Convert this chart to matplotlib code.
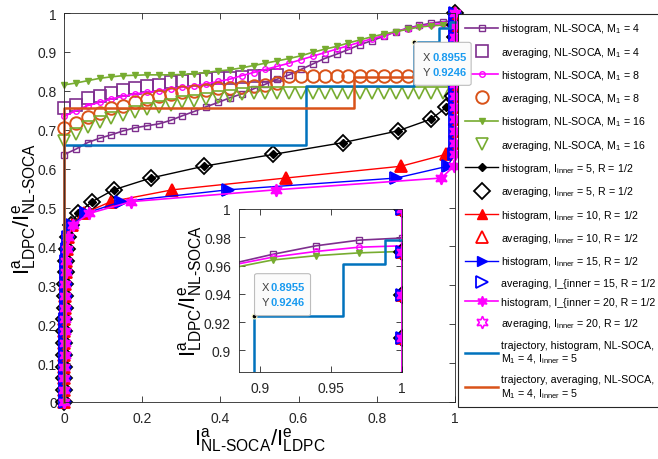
import numpy as np
import matplotlib
matplotlib.use("Agg")
import matplotlib.pyplot as plt
from matplotlib.patches import FancyBboxPatch

plt.rcParams['font.family'] = ['Liberation Sans', 'DejaVu Sans']
plt.rcParams['mathtext.fontset'] = 'custom'
plt.rcParams['mathtext.rm'] = 'Liberation Sans'
plt.rcParams['mathtext.it'] = 'Liberation Sans:italic'
plt.rcParams['mathtext.bf'] = 'Liberation Sans:bold'
plt.rcParams['mathtext.default'] = 'regular'

# a-priori input grid (34 points, step 1/33)
grid = np.linspace(0, 1, 34)

# NL-SOCA curves: y over the grid on x
hist_m4 = [0.636, 0.650, 0.667, 0.678, 0.687, 0.697, 0.705, 0.710, 0.715, 0.724,
           0.736, 0.747, 0.759, 0.770, 0.782, 0.792, 0.805, 0.817, 0.830, 0.841,
           0.855, 0.869, 0.883, 0.894, 0.906, 0.919, 0.929, 0.940, 0.952, 0.961,
           0.968, 0.974, 0.978, 0.9795]
avg_m4 = [0.755, 0.764, 0.781, 0.786, 0.794, 0.802, 0.807, 0.812, 0.816, 0.822,
          0.824, 0.827, 0.830, 0.833, 0.834, 0.836, 0.839, 0.839, 0.840]
hist_m8 = [0.734, 0.749, 0.762, 0.770, 0.779, 0.786, 0.792, 0.796, 0.800, 0.805,
           0.809, 0.813, 0.818, 0.824, 0.830, 0.839, 0.847, 0.855, 0.863, 0.871,
           0.880, 0.889, 0.898, 0.907, 0.916, 0.925, 0.934, 0.942, 0.952, 0.960,
           0.966, 0.970, 0.973, 0.974]
avg_m8 = [0.704, 0.716, 0.732, 0.743, 0.755, 0.762, 0.770, 0.779, 0.786, 0.791,
          0.796, 0.800, 0.803, 0.806, 0.808, 0.810, 0.812, 0.815, 0.820, 0.839,
          0.839, 0.839, 0.839, 0.839, 0.839, 0.839, 0.839, 0.839, 0.839, 0.839,
          0.839, 0.839, 0.839, 0.839]
hist_m16 = [0.815, 0.820, 0.826, 0.832, 0.836, 0.839, 0.840, 0.841, 0.841, 0.841,
            0.842, 0.844, 0.847, 0.851, 0.854, 0.859, 0.865, 0.871, 0.877, 0.883,
            0.890, 0.899, 0.907, 0.914, 0.923, 0.931, 0.939, 0.946, 0.952, 0.958,
            0.964, 0.967, 0.969, 0.970]
avg_m16 = [0.672, 0.689, 0.706, 0.719, 0.729, 0.738, 0.745, 0.753, 0.759, 0.764,
           0.770, 0.775, 0.779, 0.783, 0.786, 0.791, 0.794, 0.794, 0.794, 0.794,
           0.794, 0.794, 0.794, 0.794, 0.794, 0.794, 0.794, 0.794, 0.794, 0.794,
           0.794, 0.794, 0.794, 0.794]

# LDPC curves: x over the grid on y
hist_i5 = [0, 0, 0, 0, 0, 0.001, 0.001, 0.001, 0.002, 0.002,
           0.003, 0.004, 0.005, 0.007, 0.010, 0.018, 0.035, 0.072, 0.127, 0.222,
           0.357, 0.534, 0.713, 0.854, 0.939, 0.978, 0.994, 0.999, 1, 1,
           1, 1, 1, 1]
hist_i10 = [0, 0, 0, 0, 0, 0.001, 0.001, 0.001, 0.002, 0.002,
            0.003, 0.004, 0.005, 0.007, 0.010, 0.020, 0.050, 0.120, 0.277, 0.567,
            0.862, 0.976, 0.997, 1, 1, 1, 1, 1, 1, 1,
            1, 1, 1, 1]
hist_i15 = [0.002, 0.002, 0.002, 0.002, 0.003, 0.003, 0.003, 0.003, 0.004, 0.004,
            0.004, 0.005, 0.006, 0.008, 0.010, 0.020, 0.055, 0.146, 0.419, 0.850,
            0.981, 0.998, 1, 1, 1, 1, 1, 1, 1, 1,
            1, 1, 1, 1]
hist_i20 = [0.001, 0.001, 0.001, 0.001, 0.002, 0.002, 0.002, 0.002, 0.003, 0.003,
            0.003, 0.004, 0.005, 0.007, 0.010, 0.022, 0.065, 0.172, 0.541, 0.965,
            0.997, 1, 1, 1, 1, 1, 1, 1, 1, 1,
            1, 1, 1, 1]
# averaging markers sit on top of the histogram ones
avg_i5 = list(hist_i5)
avg_i10 = list(hist_i10)
avg_i15 = list(hist_i15)
avg_i20 = list(hist_i20)

# decoding trajectories
traj_hist_x = [0, 0, 0.619, 0.619, 0.8955, 0.8955, 0.958, 0.958, 0.988, 0.988, 1.0]
traj_hist_y = [0, 0.661, 0.661, 0.8115, 0.8115, 0.9246, 0.9246, 0.961, 0.961, 0.978, 0.978]
traj_avg_x = [0, 0, 0.741, 0.741, 0.8955]
traj_avg_y = [0, 0.757, 0.757, 0.835, 0.835]

tip = (0.8955, 0.9246)

purple, orange, green, tblue = '#7E2F8E', '#D95319', '#77AC30', '#0072BD'
hexagram = (6, 1, 0)

W, H = 658, 460
fig = plt.figure(figsize=(W / 100, H / 100), dpi=100)
ax = fig.add_axes([64 / W, 57 / H, 391 / W, 389 / H])
axi = fig.add_axes([239.3 / W, 87.3 / H, 163 / W, 162.7 / H])


def draw(a, clip):
    kw = dict(clip_on=clip)
    lines = []
    lines += a.plot(grid, hist_m4, '-s', color=purple, ms=4.5, mfc='none', lw=1.2, **kw)
    lines += a.plot(grid[:len(avg_m4)], avg_m4, 's', color=purple, ms=8, mfc='none', mew=1.2, **kw)
    lines += a.plot(grid, hist_m8, '-o', color='#FF00FF', ms=4, mfc='none', lw=1.2, **kw)
    lines += a.plot(grid, avg_m8, 'o', color=orange, ms=9, mfc='none', mew=1.4, **kw)
    lines += a.plot(grid, hist_m16, '-v', color=green, ms=5, lw=1.2, **kw)
    lines += a.plot(grid, avg_m16, 'v', color=green, ms=9, mfc='none', mew=1.2, **kw)
    lines += a.plot(hist_i5, grid, '-D', color='k', ms=4.5, lw=1.0, **kw)
    lines += a.plot(avg_i5, grid, 'D', color='k', ms=8, mfc='none', mew=1.3, **kw)
    lines += a.plot(hist_i10, grid, '-^', color='#FF0000', ms=6.5, lw=1.0, **kw)
    lines += a.plot(avg_i10, grid, '^', color='#FF0000', ms=9, mfc='none', mew=1.3, **kw)
    lines += a.plot(hist_i15, grid, '->', color='#0000FF', ms=6.5, lw=1.0, **kw)
    lines += a.plot(avg_i15, grid, '>', color='#0000FF', ms=9, mfc='none', mew=1.3, **kw)
    lines += a.plot(hist_i20, grid, '-', marker=hexagram, color='#FF00FF', ms=7.5, lw=1.2, **kw)
    lines += a.plot(avg_i20, grid, ls='none', marker=hexagram, color='#FF00FF', ms=9, mfc='none', mew=1.2, **kw)
    lines += a.plot(traj_hist_x, traj_hist_y, color=tblue, lw=1.8, **kw)
    lines += a.plot(traj_avg_x, traj_avg_y, color=orange, lw=1.8, **kw)
    return lines


def style(a, fs, xpad, ypad):
    for s in a.spines.values():
        s.set_color('#262626')
        s.set_linewidth(0.6)
    a.tick_params(direction='in', top=True, right=True, length=4, width=0.6,
                  colors='#262626', labelsize=fs, labelcolor='#262626')
    a.tick_params(axis='x', pad=xpad)
    a.tick_params(axis='y', pad=ypad)


handles = draw(ax, False)
ax.set_xlim(0, 1)
ax.set_ylim(0, 1)
ax.set_xticks([0, 0.2, 0.4, 0.6, 0.8, 1])
ax.set_xticklabels(['0', '0.2', '0.4', '0.6', '0.8', '1'])
ax.set_yticks(np.arange(11) / 10)
ax.set_yticklabels(['0', '0.1', '0.2', '0.3', '0.4', '0.5', '0.6', '0.7', '0.8', '0.9', '1'])
style(ax, 10, 6.5, 5)
ylab = r'I$^a_{LDPC}$/I$^e_{\text{NL-SOCA}}$'
xlab = r'I$^a_{\text{NL-SOCA}}$/I$^e_{LDPC}$'
ax.set_xlabel(xlab, fontsize=16, labelpad=0)
ax.set_ylabel(ylab, fontsize=16, labelpad=0)

draw(axi, True)
axi.set_xlim(0.8855, 1.0)
axi.set_ylim(0.885, 1.0)
axi.set_xticks([0.9, 0.95, 1])
axi.set_xticklabels(['0.9', '0.95', '1'])
axi.set_yticks([0.9, 0.92, 0.94, 0.96, 0.98, 1])
axi.set_yticklabels(['0.9', '0.92', '0.94', '0.96', '0.98', '1'])
style(axi, 10, 7, 6)
axi.set_ylabel(ylab, fontsize=16, labelpad=0)

labels = [
    r'histogram, NL-SOCA, M$_1$ = 4',
    r'averaging, NL-SOCA, M$_1$ = 4',
    r'histogram, NL-SOCA, M$_1$ = 8',
    r'averaging, NL-SOCA, M$_1$ = 8',
    r'histogram, NL-SOCA, M$_1$ = 16',
    r'averaging, NL-SOCA, M$_1$ = 16',
    r'histogram, I$_{inner}$ = 5, R = 1/2',
    r'averaging, I$_{inner}$ = 5, R = 1/2',
    r'histogram, I$_{inner}$ = 10, R = 1/2',
    r'averaging, I$_{inner}$ = 10, R = 1/2',
    r'histogram, I$_{inner}$ = 15, R = 1/2',
    'averaging, I_{inner = 15, R = 1/2',
    'histogram, I_{inner = 20, R = 1/2',
    r'averaging, I$_{inner}$ = 20, R = 1/2',
    'trajectory, histogram, NL-SOCA,\n' + r'M$_1$ = 4, I$_{inner}$ = 5',
    'trajectory, averaging, NL-SOCA,\n' + r'M$_1$ = 4, I$_{inner}$ = 5',
]
leg = ax.legend(handles, labels, loc='upper left', bbox_to_anchor=(458 / W, 1 - 15 / H),
                bbox_transform=fig.transFigure, borderaxespad=0, fontsize=7.7,
                fancybox=False, framealpha=1, edgecolor='#262626', handlelength=3.1,
                handletextpad=0.25, labelspacing=0.87, borderpad=0.68)
leg.get_frame().set_linewidth(0.8)


def datatip(a, bx, by, bw, bh, tx, nx, r1, r2):
    px, py = a.transData.transform(tip)
    a.plot(*tip, 'o', ms=3.5, color='k', mec='#ffffcc', mew=0.8, zorder=30, clip_on=False)
    fig.patches.append(FancyBboxPatch(((px + bx) / W, (py + by) / H), bw / W, bh / H,
                                      boxstyle='round,pad=0,rounding_size=0.004',
                                      transform=fig.transFigure, fc='#fbfbfb',
                                      ec='#bdbdbd', lw=0.8, zorder=5))
    for lab, val, dy in (('X', '%.4f' % tip[0], r1), ('Y', '%.4f' % tip[1], r2)):
        fig.text((px + tx) / W, (py + dy) / H, lab, color='#404040', fontsize=8,
                 va='center', ha='left', zorder=6)
        fig.text((px + nx) / W, (py + dy) / H, val, color='#1a9bf0', fontsize=8,
                 fontweight='bold', va='center', ha='left', zorder=6)


datatip(ax, 0, -43, 57, 43, 9, 18, -15, -29.5)
datatip(axi, 1, 0, 56, 42, 8, 17, 28.7, 13.7)

fig.savefig('out.png', dpi=100)
